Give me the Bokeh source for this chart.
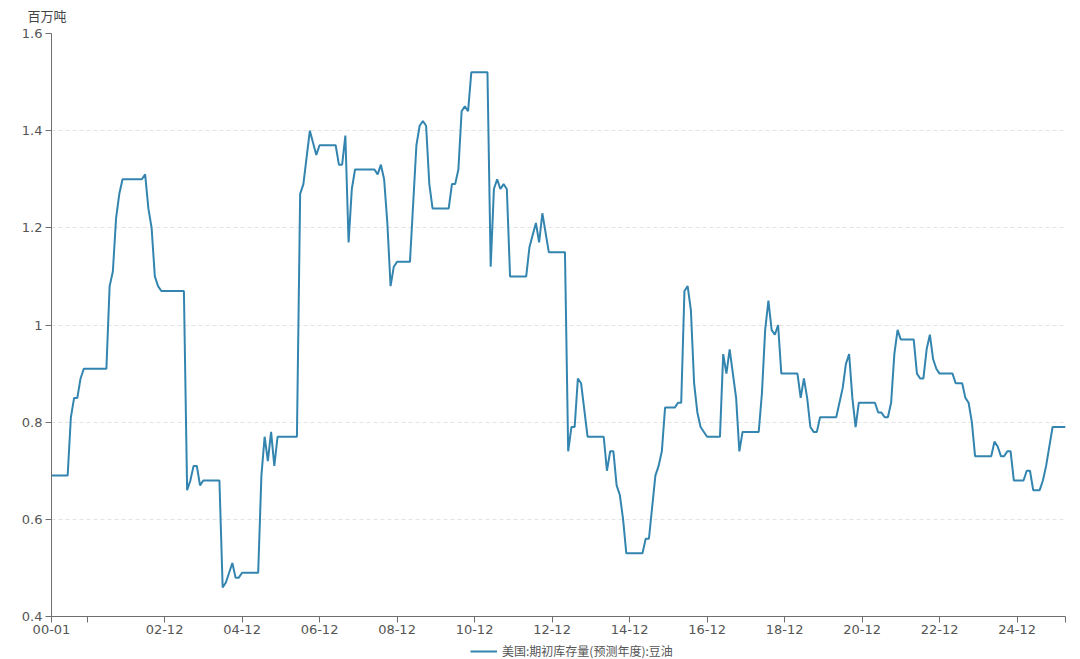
from bokeh.plotting import figure
from bokeh.layouts import column
from bokeh.models import (FixedTicker, CustomJSTickFormatter, Legend, LegendItem,
                          ColumnDataSource, Range1d)
from bokeh.embed import file_html
from bokeh.resources import INLINE

# ---- data ----
dates = [
    "2000-01", "2000-06", "2000-07", "2000-08", "2000-09", "2000-10", "2000-11",
    "2001-06", "2001-07", "2001-08", "2001-09", "2001-10", "2001-11",
    "2002-05", "2002-06", "2002-07", "2002-08", "2002-09", "2002-10", "2002-11",
    "2003-06", "2003-07", "2003-08", "2003-09", "2003-10", "2003-11", "2003-12",
    "2004-05", "2004-06", "2004-07", "2004-09", "2004-10", "2004-11", "2004-12",
    "2005-05", "2005-06", "2005-07", "2005-08", "2005-09", "2005-10", "2005-11",
    "2006-05", "2006-06", "2006-07", "2006-09", "2006-11", "2006-12",
    "2007-05", "2007-06", "2007-07", "2007-08", "2007-09", "2007-10", "2007-11",
    "2008-05", "2008-06", "2008-07", "2008-08", "2008-09", "2008-10", "2008-11", "2008-12",
    "2009-04", "2009-06", "2009-07", "2009-08", "2009-09", "2009-10", "2009-11",
    "2010-04", "2010-05", "2010-06", "2010-07", "2010-08", "2010-09", "2010-10", "2010-11",
    "2011-04", "2011-05", "2011-06", "2011-07", "2011-08", "2011-09", "2011-10", "2011-11",
    "2012-04", "2012-05", "2012-07", "2012-08", "2012-09", "2012-11",
    "2013-04", "2013-05", "2013-06", "2013-07", "2013-08", "2013-09", "2013-11",
    "2014-04", "2014-05", "2014-06", "2014-07", "2014-08", "2014-09", "2014-10", "2014-11",
    "2015-04", "2015-05", "2015-06", "2015-08", "2015-09", "2015-10", "2015-11",
    "2016-02", "2016-03", "2016-04", "2016-05", "2016-06", "2016-07", "2016-08", "2016-09",
    "2016-10", "2016-12",
    "2017-04", "2017-05", "2017-06", "2017-07", "2017-09", "2017-10", "2017-11",
    "2018-04", "2018-05", "2018-06", "2018-07", "2018-08", "2018-09", "2018-10", "2018-11",
    "2019-04", "2019-05", "2019-06", "2019-07", "2019-08", "2019-09", "2019-10", "2019-11",
    "2020-04", "2020-05", "2020-06", "2020-07", "2020-08", "2020-09", "2020-10", "2020-11",
    "2021-04", "2021-05", "2021-06", "2021-07", "2021-08", "2021-09", "2021-10", "2021-11",
    "2021-12",
    "2022-04", "2022-05", "2022-06", "2022-07", "2022-08", "2022-09", "2022-10", "2022-11",
    "2022-12",
    "2023-04", "2023-05", "2023-07", "2023-08", "2023-09", "2023-10", "2023-11",
    "2024-04", "2024-05", "2024-06", "2024-07", "2024-08", "2024-09", "2024-10", "2024-11",
    "2025-02", "2025-03", "2025-04", "2025-05", "2025-07", "2025-08", "2025-09", "2025-10",
    "2025-11", "2026-03",
]
values = [
    0.69, 0.69, 0.81, 0.85, 0.85, 0.89, 0.91,
    0.91, 1.08, 1.11, 1.22, 1.27, 1.30,
    1.30, 1.31, 1.24, 1.20, 1.10, 1.08, 1.07,
    1.07, 0.66, 0.68, 0.71, 0.71, 0.67, 0.68,
    0.68, 0.46, 0.47, 0.51, 0.48, 0.48, 0.49,
    0.49, 0.69, 0.77, 0.72, 0.78, 0.71, 0.77,
    0.77, 1.27, 1.29, 1.40, 1.35, 1.37,
    1.37, 1.33, 1.33, 1.39, 1.17, 1.28, 1.32,
    1.32, 1.31, 1.33, 1.30, 1.21, 1.08, 1.12, 1.13,
    1.13, 1.37, 1.41, 1.42, 1.41, 1.29, 1.24,
    1.24, 1.29, 1.29, 1.32, 1.44, 1.45, 1.44, 1.52,
    1.52, 1.12, 1.28, 1.30, 1.28, 1.29, 1.28, 1.10,
    1.10, 1.16, 1.21, 1.17, 1.23, 1.15,
    1.15, 0.74, 0.79, 0.79, 0.89, 0.88, 0.77,
    0.77, 0.70, 0.74, 0.74, 0.67, 0.65, 0.60, 0.53,
    0.53, 0.56, 0.56, 0.69, 0.71, 0.74, 0.83,
    0.83, 0.84, 0.84, 1.07, 1.08, 1.03, 0.88, 0.82,
    0.79, 0.77,
    0.77, 0.94, 0.90, 0.95, 0.85, 0.74, 0.78,
    0.78, 0.86, 0.99, 1.05, 0.99, 0.98, 1.00, 0.90,
    0.90, 0.85, 0.89, 0.85, 0.79, 0.78, 0.78, 0.81,
    0.81, 0.84, 0.87, 0.92, 0.94, 0.85, 0.79, 0.84,
    0.84, 0.82, 0.82, 0.81, 0.81, 0.84, 0.94, 0.99,
    0.97,
    0.97, 0.90, 0.89, 0.89, 0.95, 0.98, 0.93, 0.91,
    0.90,
    0.90, 0.88, 0.88, 0.85, 0.84, 0.80, 0.73,
    0.73, 0.76, 0.75, 0.73, 0.73, 0.74, 0.74, 0.68,
    0.68, 0.70, 0.70, 0.66, 0.66, 0.68, 0.71, 0.75,
    0.79, 0.79,
]
series_name = "美国:期初库存量(预测年度):豆油"
unit_label = "百万吨"

x_tick_dates = ["2000-01", "2000-12", "2002-12", "2004-12", "2006-12", "2008-12",
                "2010-12", "2012-12", "2014-12", "2016-12", "2018-12", "2020-12",
                "2022-12", "2024-12", "2026-03"]
x_tick_labels = ["00-01", "", "02-12", "04-12", "06-12", "08-12", "10-12", "12-12",
                 "14-12", "16-12", "18-12", "20-12", "22-12", "24-12", ""]
y_ticks = [0.4, 0.6, 0.8, 1.0, 1.2, 1.4, 1.6]


def month_index(s):
    y, m = s.split("-")
    return (int(y) - 2000) * 12 + int(m) - 1


xs = [month_index(d) for d in dates]
x_ticks = [month_index(d) for d in x_tick_dates]

CJK_FONT = "Noto Sans CJK SC"
NUM_FONT = "DejaVu Sans"
LINE_COLOR = "#3385b0"
W = 1080

src = ColumnDataSource(dict(x=xs, y=values))


def strip_figure(height, top_border=0, title=None):
    f = figure(width=W, height=height, title=title, output_backend="svg",
               toolbar_location=None, x_axis_type=None, y_axis_type=None,
               x_range=Range1d(-2, -1), y_range=Range1d(-2, -1),
               min_border_left=51, min_border_right=15,
               min_border_top=top_border, min_border_bottom=0)
    f.outline_line_color = None
    f.grid.visible = False
    return f


# ---- top strip: unit label (as title) ----
p_top = strip_figure(26, top_border=25, title=unit_label)
p_top.title.align = "left"
p_top.title.offset = -24
p_top.title.text_font = CJK_FONT
p_top.title.text_font_size = "13px"
p_top.title.text_font_style = "normal"
p_top.title.text_color = "#444444"
p_top.title.standoff = 2

# ---- main chart ----
p = figure(frame_width=1014, frame_height=583, title=None, output_backend="svg",
           toolbar_location=None,
           x_range=Range1d(x_ticks[0], x_ticks[-1]), y_range=Range1d(y_ticks[0], y_ticks[-1]),
           min_border_left=51, min_border_right=15, min_border_top=7, min_border_bottom=25)
p.outline_line_color = None
p.background_fill_color = "white"
p.border_fill_color = "white"

p.line("x", "y", source=src, line_color=LINE_COLOR, line_width=2)

p.xgrid.visible = False
p.ygrid.ticker = FixedTicker(ticks=y_ticks)
p.ygrid.grid_line_color = "#e3e3e3"
p.ygrid.grid_line_dash = "4 3"

for ax in (p.xaxis[0], p.yaxis[0]):
    ax.axis_line_color = "#6e6e6e"
    ax.major_tick_line_color = "#6e6e6e"
    ax.minor_tick_line_color = None
    ax.major_tick_in = 0
    ax.major_tick_out = 6
    ax.major_label_text_font = NUM_FONT
    ax.major_label_text_font_size = "13px"
    ax.major_label_text_color = "#555555"

p.xaxis[0].ticker = FixedTicker(ticks=x_ticks)
p.xaxis[0].major_label_overrides = {t: lab for t, lab in zip(x_ticks, x_tick_labels)}
p.xaxis[0].major_label_standoff = 2

p.yaxis[0].ticker = FixedTicker(ticks=y_ticks)
p.yaxis[0].formatter = CustomJSTickFormatter(code="return tick.toFixed(1).replace(/\\.0$/, '');")
p.yaxis[0].major_label_standoff = 3

# ---- bottom strip: legend (series drawn outside this strip's ranges) ----
p_leg = strip_figure(18)
proxy = p_leg.line("x", "y", source=src, line_color=LINE_COLOR, line_width=2)
legend = Legend(items=[LegendItem(label=series_name, renderers=[proxy])],
                location=(419, 0), orientation="horizontal")
legend.border_line_color = None
legend.background_fill_alpha = 0
legend.margin = 0
legend.padding = 0
legend.glyph_width = 27
legend.glyph_height = 12
legend.label_height = 12
legend.label_standoff = 5
legend.label_text_font = CJK_FONT
legend.label_text_font_size = "12px"
legend.label_text_color = "#555555"
p_leg.add_layout(legend, "center")

layout = column(p_top, p, p_leg, spacing=0)
open("out.html", "w").write(file_html(layout, INLINE))
